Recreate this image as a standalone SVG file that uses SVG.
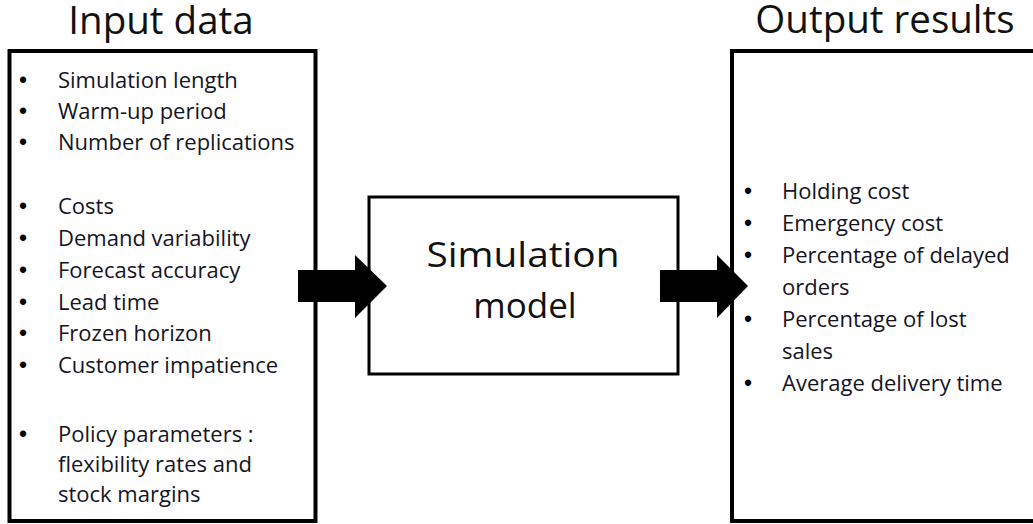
<svg xmlns="http://www.w3.org/2000/svg" width="1033" height="524" viewBox="0 0 1033 524">
<style>
text{font-family:"Open Sans","Noto Sans","Liberation Sans",sans-serif;font-variant-ligatures:none}
.box{fill:#fff;stroke:#000}
.title{font-size:38.5px;fill:#111;text-anchor:middle}
.mid{font-size:35px;fill:#111;text-anchor:middle}
.body text{font-size:22px;fill:#15151f}
.body text.b{font-family:"Liberation Sans",sans-serif;font-size:23px;fill:#000}
.arrow{fill:#000}
</style>
<rect width="1033" height="524" fill="#fff"/>
<g id="input">
<text class="title" x="161" y="34">Input data</text>
<rect class="box" x="9.5" y="51" width="306" height="470" stroke-width="4"/>
<g class="body">
<text class="b" x="19" y="88">•</text><text x="58" y="88">Simulation length</text>
<text class="b" x="19" y="119">•</text><text x="58" y="119">Warm-up period</text>
<text class="b" x="19" y="150">•</text><text x="58" y="150">Number of replications</text>
<text class="b" x="19" y="214">•</text><text x="58" y="214">Costs</text>
<text class="b" x="19" y="246">•</text><text x="58" y="246">Demand variability</text>
<text class="b" x="19" y="278">•</text><text x="58" y="278">Forecast accuracy</text>
<text class="b" x="19" y="310">•</text><text x="58" y="310">Lead time</text>
<text class="b" x="19" y="341">•</text><text x="58" y="341">Frozen horizon</text>
<text class="b" x="19" y="373">•</text><text x="58" y="373">Customer impatience</text>
<text class="b" x="19" y="442">•</text><text x="58" y="442">Policy parameters :</text>
<text x="58" y="472">flexibility rates and</text>
<text x="58" y="502">stock margins</text>
</g>
</g>
<g id="model">
<rect class="box" x="369" y="197" width="309" height="177" stroke-width="3"/>
<text class="mid" x="523" y="267" textLength="193" lengthAdjust="spacingAndGlyphs">Simulation</text>
<text class="mid" x="525" y="318">model</text>
</g>
<g id="output">
<text class="title" x="885" y="33">Output results</text>
<rect class="box" x="732" y="51" width="320" height="470" stroke-width="4"/>
<g class="body">
<text class="b" x="744" y="199">•</text><text x="782" y="199">Holding cost</text>
<text class="b" x="744" y="231">•</text><text x="782" y="231">Emergency cost</text>
<text class="b" x="744" y="263">•</text><text x="782" y="263">Percentage of delayed</text>
<text x="782" y="295">orders</text>
<text class="b" x="744" y="327">•</text><text x="782" y="327">Percentage of lost</text>
<text x="782" y="359">sales</text>
<text class="b" x="744" y="391">•</text><text x="782" y="391">Average delivery time</text>
</g>
</g>
<g id="connectors">
<polygon class="arrow" points="298,270 355,270 355,255 387,286 355,318 355,302 298,302"/>
<polygon class="arrow" points="660,270 717,270 717,255 748,286 717,318 717,302 660,302"/>
</g>
</svg>
